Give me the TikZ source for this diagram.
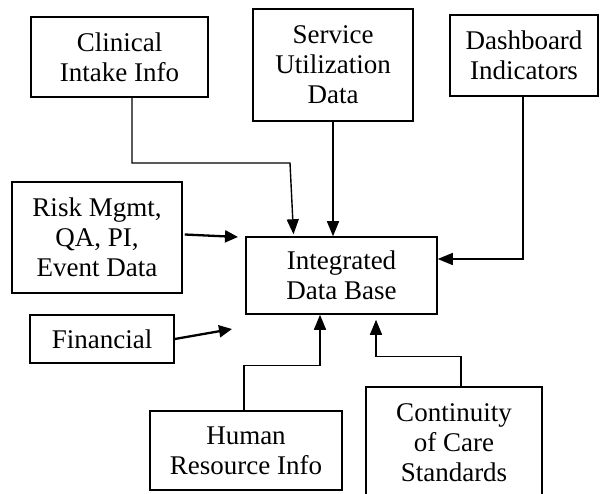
\documentclass[tikz,border=0pt]{standalone}
\usepackage{fontspec}
\setmainfont{Liberation Serif}
\usetikzlibrary{arrows.meta}
\begin{document}
\begin{tikzpicture}[x=1pt,y=-1pt,
  box/.style={draw,line width=1.5pt,align=center,inner sep=0pt,
    font=\fontsize{27}{30}\selectfont},
  arr/.style={line width=1.4pt,-{Triangle[length=15pt,width=12pt]}},
  thickarr/.style={line width=2.3pt,-{Triangle[length=13pt,width=12pt]}}]
\useasboundingbox (0,0) rectangle (607,494);
\node[box,minimum width=177pt,minimum height=80pt] (clin) at (119.5,57) {Clinical\\Intake Info};
\node[box,minimum width=160pt,minimum height=112pt] (serv) at (333,65) {Service\\Utilization\\Data};
\node[box,minimum width=148pt,minimum height=81pt] (dash) at (524,55.5) {Dashboard\\Indicators};
\node[box,minimum width=170pt,minimum height=111pt] (risk) at (97,237.5) {Risk Mgmt,\\QA, PI,\\Event Data};
\node[box,minimum width=191pt,minimum height=77pt] (integ) at (341.5,275.5) {Integrated\\Data Base};
\node[box,minimum width=144pt,minimum height=48pt] (fin) at (102,339) {Financial};
\node[box,minimum width=192pt,minimum height=79pt] (hum) at (246,450.5) {Human\\Resource Info};
\node[box,minimum width=176pt,minimum height=112pt] (cont) at (454,443) {Continuity\\of Care\\Standards};
\coordinate (riskend) at (238,237);
\coordinate (finend) at (232,329);
\draw[arr] ([xshift=12.5pt]clin.south) |- (290,163) -- ([xshift=-48pt,yshift=2pt]integ.north);
\draw[arr] (serv.south) -- (serv.south |- integ.north);
\draw[arr] ([xshift=-1pt]dash.south) |- ([yshift=16.5pt]integ.east);
\draw[thickarr] ([xshift=2pt,yshift=3pt]risk.east) -- (riskend);
\draw[thickarr] (fin.east) -- (finend);
\draw[arr] ([xshift=-2pt]hum.north) -- ++(0,-45) -| ([xshift=-21.5pt]integ.south);
\draw[arr] ([xshift=7pt]cont.north) -- ++(0,-30) -| ([xshift=34.5pt,yshift=-5pt]integ.south);
\end{tikzpicture}
\end{document}
